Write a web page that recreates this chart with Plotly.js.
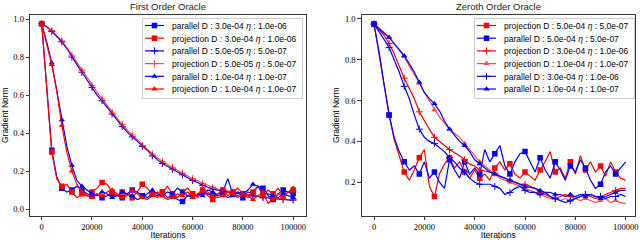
<!DOCTYPE html>
<html><head><meta charset="utf-8">
<script src="https://cdn.plot.ly/plotly-3.0.1.min.js"></script>
<style>html,body{margin:0;padding:0;background:#fff}#chart{width:640px;height:240px}</style>
</head><body><div id="chart"></div>
<script>
const iterations = [0,2000,4000,6000,8000,10000,12000,14000,16000,18000,20000,22000,24000,26000,28000,30000,32000,34000,36000,38000,40000,42000,44000,46000,48000,50000,52000,54000,56000,58000,60000,62000,64000,66000,68000,70000,72000,74000,76000,78000,80000,82000,84000,86000,88000,90000,92000,94000,96000,98000,100000];
const xTicks = [0,20000,40000,60000,80000,100000];
const yTicksLeft = [0,0.2,0.4,0.6,0.8,1.0];
const yTicksRight = [0.2,0.4,0.6,0.8,1.0];

// First Order Oracle
const foParallel3e4 = [.975,.64,.31,.17,.11,.09,.10,.12,.10,.08,.07,.08,.06,.07,.08,.07,.06,.08,.10,.09,.07,.06,.08,.07,.09,.06,.07,.05,.04,.07,.08,.07,.09,.08,.07,.08,.09,.16,.08,.07,.06,.09,.08,.12,.11,.07,.05,.08,.10,.09,.08];
const foProjection3e4 = [.975,.63,.30,.16,.12,.13,.09,.06,.08,.07,.09,.11,.14,.13,.09,.07,.09,.08,.06,.09,.13,.11,.08,.06,.09,.12,.08,.06,.09,.11,.08,.06,.10,.07,.05,.08,.10,.07,.09,.11,.08,.06,.09,.12,.07,.10,.08,.11,.07,.09,.10];
const foParallel5e5 = [.975,.96,.935,.91,.88,.845,.80,.76,.72,.68,.64,.60,.57,.535,.50,.465,.435,.405,.38,.355,.33,.305,.28,.26,.24,.225,.21,.195,.18,.165,.15,.14,.125,.115,.105,.10,.095,.09,.085,.08,.075,.072,.07,.065,.06,.058,.055,.052,.05,.048,.047];
const foProjection5e5 = [.975,.96,.94,.915,.885,.85,.81,.77,.73,.69,.65,.615,.58,.545,.51,.48,.445,.415,.39,.36,.335,.31,.29,.27,.25,.235,.22,.205,.19,.175,.16,.15,.135,.125,.115,.105,.10,.095,.09,.085,.08,.075,.072,.068,.065,.06,.057,.055,.052,.05,.05];
const foParallel1e4 = [.975,.88,.77,.63,.47,.33,.23,.15,.12,.10,.08,.07,.09,.08,.06,.07,.09,.08,.07,.05,.06,.08,.10,.08,.07,.09,.08,.11,.09,.07,.06,.08,.07,.10,.09,.07,.08,.06,.07,.09,.08,.10,.13,.12,.09,.08,.07,.06,.08,.07,.06];
const foProjection1e4 = [.975,.87,.76,.62,.44,.30,.20,.13,.09,.07,.06,.08,.07,.09,.10,.08,.06,.07,.10,.08,.06,.05,.07,.09,.07,.05,.06,.08,.07,.09,.06,.08,.10,.09,.07,.06,.07,.09,.08,.06,.08,.07,.05,.07,.09,.03,.05,.08,.06,.09,.11];

// Zeroth Order Oracle
const zoProjection5e4 = [.975,.83,.67,.53,.41,.33,.25,.21,.26,.32,.36,.18,.13,.24,.29,.32,.27,.30,.25,.22,.26,.22,.24,.21,.27,.30,.26,.29,.24,.22,.25,.23,.21,.26,.30,.35,.25,.27,.22,.30,.24,.33,.26,.30,.25,.28,.23,.30,.25,.22,.21];
const zoParallel5e4 = [.975,.84,.68,.53,.42,.35,.30,.26,.28,.24,.30,.22,.25,.20,.17,.31,.26,.22,.30,.24,.27,.24,.36,.30,.34,.38,.28,.24,.30,.34,.35,.30,.25,.32,.26,.22,.30,.26,.21,.28,.25,.31,.27,.21,.17,.19,.25,.28,.24,.27,.30];
const zoProjection3e4 = [.975,.95,.92,.88,.83,.77,.71,.66,.61,.545,.50,.46,.42,.40,.38,.36,.345,.33,.31,.29,.28,.26,.255,.25,.245,.23,.22,.21,.20,.19,.19,.18,.17,.15,.14,.13,.12,.13,.14,.13,.12,.13,.14,.13,.12,.13,.14,.15,.16,.17,.17];
const zoProjection1e4 = [.975,.955,.935,.91,.88,.85,.815,.77,.73,.685,.64,.60,.555,.52,.49,.46,.44,.42,.39,.36,.33,.30,.28,.26,.24,.22,.21,.20,.19,.18,.17,.16,.15,.14,.13,.12,.12,.11,.12,.11,.12,.11,.12,.11,.10,.11,.12,.10,.11,.10,.095];
const zoParallel3e4 = [.975,.94,.90,.86,.80,.74,.67,.61,.53,.46,.42,.40,.39,.37,.35,.32,.30,.27,.25,.22,.20,.19,.19,.19,.18,.17,.14,.15,.17,.18,.16,.15,.15,.14,.15,.13,.12,.11,.10,.11,.12,.13,.14,.14,.13,.13,.12,.13,.13,.14,.13];
const zoParallel1e4 = [.975,.95,.93,.91,.88,.85,.82,.78,.74,.69,.64,.61,.585,.55,.50,.46,.43,.40,.38,.35,.31,.29,.27,.25,.24,.23,.22,.21,.20,.19,.18,.175,.17,.16,.15,.15,.14,.14,.13,.14,.13,.14,.13,.14,.13,.12,.13,.14,.15,.16,.16];

const BLUE = '#0000ff', RED = '#ff0000', CLEAR = 'rgba(0,0,0,0)';

function series(y, name, color, symbol, every, xa, ya, legend, opacity) {
  const mc = y.map((v, i) => (i % every === 0 ? color : CLEAR));
  const thin = symbol.endsWith('-thin');
  return {
    type: 'scatter', mode: 'lines+markers', x: iterations, y: y, name: name,
    xaxis: xa, yaxis: ya, legend: legend, opacity: opacity || 1,
    line: {color: color, width: 1.2},
    marker: thin
      ? {symbol: symbol, size: 5, color: color, line: {color: mc, width: 1}}
      : {symbol: symbol, size: 5.5, color: mc, line: {color: mc, width: 0}}
  };
}
const eta = '<i>η</i>';
const data = [
  series(foParallel3e4, 'parallel D : 3.0e-04 ' + eta + ' : 1.0e-06', BLUE, 'square', 2, 'x', 'y', 'legend'),
  series(foProjection3e4, 'projection D : 3.0e-04 ' + eta + ' : 1.0e-06', RED, 'square', 2, 'x', 'y', 'legend'),
  series(foParallel5e5, 'parallel D : 5.0e-05 ' + eta + ' : 5.0e-07', BLUE, 'cross-thin', 2, 'x', 'y', 'legend'),
  series(foProjection5e5, 'projection D : 5.0e-05 ' + eta + ' : 5.0e-07', RED, 'cross-thin', 2, 'x', 'y', 'legend', 0.7),
  series(foParallel1e4, 'parallel D : 1.0e-04 ' + eta + ' : 1.0e-07', BLUE, 'triangle-up', 2, 'x', 'y', 'legend'),
  series(foProjection1e4, 'projection D : 1.0e-04 ' + eta + ' : 1.0e-07', RED, 'triangle-up', 2, 'x', 'y', 'legend'),
  series(zoProjection5e4, 'projection D : 5.0e-04 ' + eta + ' : 5.0e-07', RED, 'square', 3, 'x2', 'y2', 'legend2'),
  series(zoParallel5e4, 'parallel D : 5.0e-04 ' + eta + ' : 5.0e-07', BLUE, 'square', 3, 'x2', 'y2', 'legend2'),
  series(zoProjection3e4, 'projection D : 3.0e-04 ' + eta + ' : 1.0e-06', RED, 'cross-thin', 3, 'x2', 'y2', 'legend2'),
  series(zoProjection1e4, 'projection D : 1.0e-04 ' + eta + ' : 1.0e-07', RED, 'triangle-up', 3, 'x2', 'y2', 'legend2', 0.7),
  series(zoParallel3e4, 'parallel D : 3.0e-04 ' + eta + ' : 1.0e-06', BLUE, 'cross-thin', 3, 'x2', 'y2', 'legend2'),
  series(zoParallel1e4, 'parallel D : 1.0e-04 ' + eta + ' : 1.0e-07', BLUE, 'triangle-up', 3, 'x2', 'y2', 'legend2')
];

const SANS = 'Liberation Sans, Arial, sans-serif';
const SERIF = 'Liberation Serif, Times New Roman, serif';
const axisBase = {
  showline: true, mirror: true, linecolor: '#222', linewidth: 0.9,
  ticks: 'outside', ticklen: 3.5, tickwidth: 0.9, tickcolor: '#222',
  showgrid: false, zeroline: false,
  tickfont: {family: SERIF, size: 8.5, color: '#000'}
};
const yDomain = [1 - 215.7 / 240, 1 - 14.7 / 240];
const legendBase = {
  font: {family: SANS, size: 8.5, color: '#000'},
  bgcolor: 'rgba(255,255,255,0.85)', bordercolor: '#cccccc', borderwidth: 1,
  xanchor: 'right', yanchor: 'top', y: 1 - 18 / 240, itemwidth: 30, tracegroupgap: 0
};
const titleFont = {family: SANS, size: 8.5, color: '#000'};
const layout = {
  width: 640, height: 240, margin: {l: 0, r: 0, t: 0, b: 0},
  paper_bgcolor: '#fff', plot_bgcolor: '#fff', showlegend: true,
  xaxis: Object.assign({}, axisBase, {domain: [30 / 640, 306 / 640], range: [-4650, 105100], anchor: 'y',
    tickvals: xTicks, tickformat: 'd', title: {text: 'Iterations', font: titleFont, standoff: 2}}),
  yaxis: Object.assign({}, axisBase, {domain: yDomain, range: [-0.035, 1.023], anchor: 'x',
    tickvals: yTicksLeft, tickformat: '.1f', title: {text: 'Gradient Norm', font: titleFont, standoff: 3}}),
  xaxis2: Object.assign({}, axisBase, {domain: [361.7 / 640, 635 / 640], range: [-4890, 103700], anchor: 'y2',
    tickvals: xTicks, tickformat: 'd', title: {text: 'Iterations', font: titleFont, standoff: 2}}),
  yaxis2: Object.assign({}, axisBase, {domain: yDomain, range: [0.036, 1.021], anchor: 'x2',
    tickvals: yTicksRight, tickformat: '.1f', title: {text: 'Gradient Norm', font: titleFont, standoff: 3}}),
  legend: Object.assign({}, legendBase, {x: 302 / 640}),
  legend2: Object.assign({}, legendBase, {x: 634 / 640}),
  annotations: [
    {text: 'First Order Oracle', xref: 'paper', yref: 'paper', x: 168 / 640, y: 1 - 6 / 240, xanchor: 'center', yanchor: 'middle', showarrow: false, font: {family: SANS, size: 9.5, color: '#222'}},
    {text: 'Zeroth Order Oracle', xref: 'paper', yref: 'paper', x: 498 / 640, y: 1 - 6 / 240, xanchor: 'center', yanchor: 'middle', showarrow: false, font: {family: SANS, size: 9.5, color: '#222'}}
  ]
};

// compact the legends like matplotlib's (tighter rows, short line samples)
function compactLegend(gd, cls, rightEdge, topEdge) {
  const lg = gd.querySelector('g.' + cls);
  if (!lg) return;
  const rowH = 12.7, firstY = 7.5, textX = 29;
  const items = lg.querySelectorAll('g.traces');
  let maxW = 0;
  items.forEach((it, i) => {
    it.setAttribute('transform', 'translate(1,' + (firstY + i * rowH) + ')');
    it.querySelectorAll('g.legendlines path').forEach(p => p.setAttribute('d', 'M2,0h19'));
    it.querySelectorAll('g.legendpoints path.scatterpts').forEach(p => p.setAttribute('transform', 'translate(11.5,0)'));
    const t = it.querySelector('text');
    if (t) { t.setAttribute('x', textX); maxW = Math.max(maxW, t.getComputedTextLength()); }
    const tog = it.querySelector('rect.legendtoggle');
    if (tog) tog.setAttribute('height', rowH);
  });
  if (maxW < 50) maxW = 128;
  const W = Math.ceil(textX + maxW + 6), H = firstY + (items.length - 1) * rowH + 9;
  const bg = lg.querySelector('rect.bg');
  if (bg) { bg.setAttribute('width', W); bg.setAttribute('height', H); }
  lg.setAttribute('transform', 'translate(' + (rightEdge - W) + ',' + topEdge + ')');
}

Plotly.newPlot('chart', data, layout, {staticPlot: true, displayModeBar: false}).then(gd => {
  compactLegend(gd, 'legend', 302, 18);
  compactLegend(gd, 'legend2', 634, 18);
});
</script>
</body></html>
